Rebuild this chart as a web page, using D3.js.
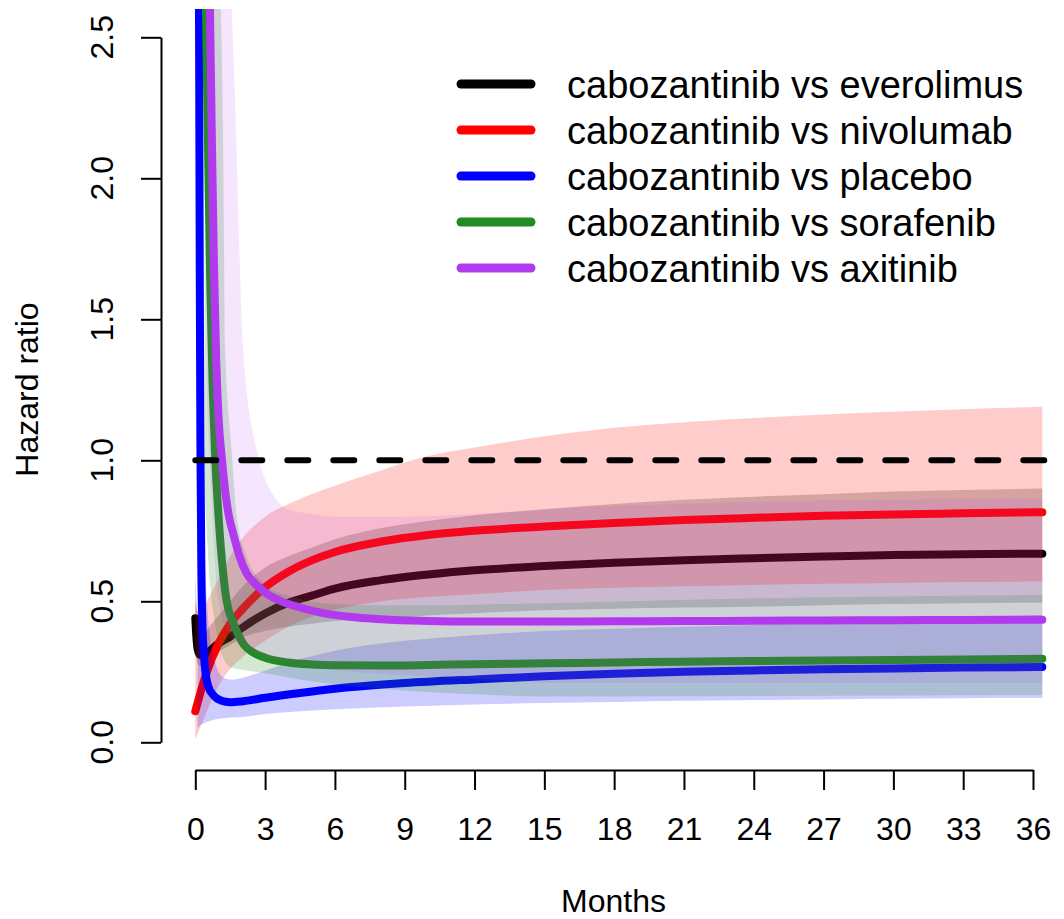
<!DOCTYPE html>
<html>
<head>
<meta charset="utf-8">
<script src="https://cdn.jsdelivr.net/npm/d3@7"></script>
<style>
  body { margin: 0; background: #fff; }
  text { font-family: "Liberation Sans", Arial, sans-serif; fill: #000; }
</style>
</head>
<body>
<svg id="chart" width="1064" height="919"></svg>
<script>
// ---- data (months, hazard ratio) ----
var blackT  = [0, 0.05, 0.1, 0.2, 0.4, 0.7, 1, 1.5, 2, 3, 4, 5, 6, 8, 10, 12, 15, 18, 21, 24, 27, 30, 33, 36.4];
var blackHR = [0.44, 0.37, 0.33, 0.31, 0.31, 0.33, 0.35, 0.375, 0.405, 0.457, 0.495, 0.52, 0.545, 0.575, 0.595, 0.61, 0.625, 0.637, 0.646, 0.653, 0.659, 0.664, 0.667, 0.669];
var blackLo = [0.34, 0.3, 0.28, 0.27, 0.28, 0.3, 0.32, 0.345, 0.37, 0.395, 0.41, 0.42, 0.43, 0.44, 0.45, 0.458, 0.468, 0.474, 0.478, 0.481, 0.486, 0.49, 0.493, 0.495];
var blackHi = [0.6, 0.5, 0.45, 0.4, 0.39, 0.42, 0.45, 0.5, 0.55, 0.62, 0.66, 0.69, 0.72, 0.76, 0.785, 0.805, 0.826, 0.845, 0.86, 0.871, 0.88, 0.889, 0.895, 0.9];

var redT  = [0, 0.2, 0.5, 1, 1.5, 2, 3, 4, 5, 6, 8, 10, 12, 15, 18, 21, 24, 27, 30, 33, 36.4];
var redHR = [0.11, 0.17, 0.25, 0.35, 0.42, 0.47, 0.55, 0.605, 0.645, 0.675, 0.712, 0.735, 0.75, 0.765, 0.778, 0.788, 0.796, 0.803, 0.808, 0.812, 0.816];
var redLo = [0.01, 0.05, 0.11, 0.2, 0.26, 0.3, 0.36, 0.41, 0.445, 0.47, 0.5, 0.515, 0.525, 0.54, 0.548, 0.553, 0.558, 0.562, 0.565, 0.568, 0.57];
var redHi = [0.5, 0.45, 0.5, 0.58, 0.66, 0.72, 0.8, 0.845, 0.88, 0.91, 0.965, 1.015, 1.045, 1.085, 1.115, 1.135, 1.15, 1.162, 1.172, 1.181, 1.19];

var blueT  = [0.15, 0.17, 0.19, 0.22, 0.26, 0.3, 0.4, 0.55, 0.8, 1.1, 1.5, 2, 3, 4.5, 6, 9, 12, 15, 18, 21, 24, 27, 30, 33, 36.4];
var blueHR = [2.8, 2.3, 1.7, 1.05, 0.62, 0.43, 0.28, 0.2, 0.165, 0.148, 0.142, 0.145, 0.158, 0.175, 0.19, 0.21, 0.223, 0.234, 0.243, 0.25, 0.255, 0.259, 0.262, 0.265, 0.267];
var blueBandT = [0.1, 0.2, 0.3, 0.5, 0.8, 1.2, 1.6, 2, 3, 4.5, 6, 9, 12, 15, 18, 21, 24, 27, 30, 33, 36.4];
var blueLo = [0.05, 0.06, 0.065, 0.072, 0.08, 0.085, 0.088, 0.09, 0.1, 0.11, 0.117, 0.127, 0.134, 0.139, 0.143, 0.147, 0.15, 0.152, 0.154, 0.156, 0.157];
var blueHi = [3, 3, 1.2, 0.5, 0.3, 0.23, 0.222, 0.228, 0.255, 0.295, 0.325, 0.36, 0.38, 0.395, 0.403, 0.41, 0.416, 0.425, 0.435, 0.443, 0.451];

var greenT  = [0.4, 0.46, 0.55, 0.65, 0.75, 0.85, 1.0, 1.15, 1.35, 1.6, 1.8, 2.1, 2.5, 3, 4, 5, 6, 8, 10, 12, 15, 18, 21, 24, 27, 30, 33, 36.4];
var greenHR = [3.2, 2.6, 2.1, 1.6, 1.25, 1.02, 0.8, 0.64, 0.5, 0.43, 0.39, 0.345, 0.318, 0.3, 0.283, 0.276, 0.273, 0.272, 0.274, 0.277, 0.28, 0.283, 0.286, 0.288, 0.29, 0.292, 0.294, 0.296];
var greenBandT = [0.4, 0.6, 0.9, 1.1, 1.2, 1.28, 1.56, 1.78, 2.2, 3, 4, 6, 8, 10, 12, 15.7, 20, 24.3, 30, 36.4];
var greenLo = [0.9, 0.6, 0.4, 0.32, 0.3, 0.285, 0.265, 0.26, 0.255, 0.245, 0.23, 0.205, 0.19, 0.178, 0.17, 0.162, 0.163, 0.164, 0.166, 0.168];
var greenHi = [3, 3, 3, 2.6, 2.1, 1.4, 1.035, 0.8, 0.66, 0.56, 0.52, 0.49, 0.485, 0.485, 0.488, 0.494, 0.503, 0.511, 0.517, 0.522];

var purpleT  = [0.55, 0.63, 0.72, 0.8, 0.9, 1.0, 1.15, 1.3, 1.45, 1.63, 1.9, 2.2, 2.6, 3.1, 3.7, 4.5, 5.5, 6.6, 8, 10, 12, 15, 18, 21, 24, 27, 30, 33, 36.4];
var purpleHR = [3.2, 2.6, 2.1, 1.7, 1.35, 1.15, 1.0, 0.88, 0.8, 0.74, 0.66, 0.6, 0.56, 0.525, 0.5, 0.478, 0.458, 0.445, 0.436, 0.43, 0.428, 0.428, 0.429, 0.43, 0.431, 0.432, 0.433, 0.434, 0.435];
var purpleBandT = [0.5, 1.0, 1.5, 1.7, 2.05, 2.64, 3.07, 4.07, 5, 6.2, 8.4, 12, 15.7, 20, 24.3, 30, 36.4];
var purpleLo = [1.2, 0.5, 0.38, 0.36, 0.34, 0.315, 0.3, 0.28, 0.265, 0.255, 0.24, 0.225, 0.21, 0.21, 0.21, 0.21, 0.21];
var purpleHi = [3, 3, 2.7, 2.3, 1.4, 1.035, 0.92, 0.823, 0.81, 0.8, 0.8, 0.81, 0.83, 0.843, 0.853, 0.86, 0.866];

var refT  = [0, 36.6];
var refHR = [1, 1];

var labels = ["cabozantinib vs everolimus", "cabozantinib vs nivolumab", "cabozantinib vs placebo",
              "cabozantinib vs sorafenib", "cabozantinib vs axitinib"];
var colors = ["#000000", "#ff0000", "#0000ff", "#228b22", "#b23aee"];
var bandAlpha = [0.2, 0.2, 0.2, 0.2, 0.13];
var xTicks = [0, 3, 6, 9, 12, 15, 18, 21, 24, 27, 30, 33, 36];
var yTicks = [0, 0.5, 1, 1.5, 2, 2.5];

// ---- build ----
var svg = d3.select("#chart");
svg.append("rect").attr("width", 1064).attr("height", 919).attr("fill", "#fff");

var x = d3.scaleLinear().domain([0, 36]).range([195.3, 1033]);
var y = d3.scaleLinear().domain([0, 2.5]).range([742.3, 37.3]);

// plot region (R extends the ranges by 4%)
svg.append("clipPath").attr("id", "plotclip")
  .append("rect").attr("x", 161).attr("y", 9).attr("width", 905).attr("height", 761);

var zip = function(t, a, b) {
  return t.map(function(d, i) { return {t: d, a: a[i], b: b ? b[i] : null}; });
};

var series = [
  {line: zip(blackT, blackHR),   band: zip(blackT, blackLo, blackHi)},
  {line: zip(redT, redHR),       band: zip(redT, redLo, redHi)},
  {line: zip(blueT, blueHR),     band: zip(blueBandT, blueLo, blueHi)},
  {line: zip(greenT, greenHR),   band: zip(greenBandT, greenLo, greenHi)},
  {line: zip(purpleT, purpleHR), band: zip(purpleBandT, purpleLo, purpleHi)}
];

var area = d3.area().curve(d3.curveMonotoneX)
  .x(function(d) { return x(d.t); })
  .y0(function(d) { return y(d.a); })
  .y1(function(d) { return y(d.b); });
var line = d3.line().curve(d3.curveMonotoneX)
  .x(function(d) { return x(d.t); })
  .y(function(d) { return y(d.a); });

var plot = svg.append("g").attr("clip-path", "url(#plotclip)");

// each band then its line, so later bands tint earlier lines
series.forEach(function(s, i) {
  plot.append("path").attr("d", area(s.band))
    .attr("fill", colors[i]).attr("fill-opacity", bandAlpha[i]);
  plot.append("path").attr("d", line(s.line))
    .attr("fill", "none").attr("stroke", colors[i])
    .attr("stroke-width", 8).attr("stroke-linecap", "round").attr("stroke-linejoin", "round");
});

// reference line at HR = 1
plot.append("path").attr("d", line(zip(refT, refHR)))
  .attr("fill", "none").attr("stroke", "#000").attr("stroke-width", 6)
  .attr("stroke-dasharray", "21,25").attr("stroke-linecap", "round");

// x axis
var gx = svg.append("g").attr("transform", "translate(0,770)")
  .call(d3.axisBottom(x).tickValues(xTicks).tickSize(20).tickSizeOuter(0));
gx.selectAll("path, line").attr("stroke", "#000").attr("stroke-width", 2);
gx.selectAll("text").attr("y", 70).attr("dy", null)
  .style("font-size", "32px").style("font-family", "'Liberation Sans', Arial, sans-serif");

// y axis
var gy = svg.append("g").attr("transform", "translate(161,0)")
  .call(d3.axisLeft(y).tickValues(yTicks).tickSize(20).tickSizeOuter(0).tickFormat(""));
gy.selectAll("path, line").attr("stroke", "#000").attr("stroke-width", 2);
gy.selectAll("text").remove();
svg.selectAll(".ylab").data(yTicks).enter().append("text")
  .attr("transform", function(d) { return "translate(113," + y(d) + ") rotate(-90)"; })
  .attr("text-anchor", "middle").style("font-size", "32px")
  .text(d3.format(".1f"));

// axis titles
svg.append("text").attr("x", 613.5).attr("y", 912).attr("text-anchor", "middle")
  .style("font-size", "32px").text("Months");
svg.append("text").attr("transform", "translate(38,389.5) rotate(-90)")
  .attr("text-anchor", "middle").style("font-size", "32px").text("Hazard ratio");

// legend
var leg = svg.append("g").selectAll("g").data(labels).enter().append("g")
  .attr("transform", function(d, i) { return "translate(0," + (84 + i * 46) + ")"; });
leg.append("line").attr("x1", 461).attr("x2", 531)
  .attr("stroke", function(d, i) { return colors[i]; })
  .attr("stroke-width", 9).attr("stroke-linecap", "round");
leg.append("text").attr("x", 567).attr("y", 14)
  .style("font-size", "38px").text(function(d) { return d; });
</script>
</body>
</html>
